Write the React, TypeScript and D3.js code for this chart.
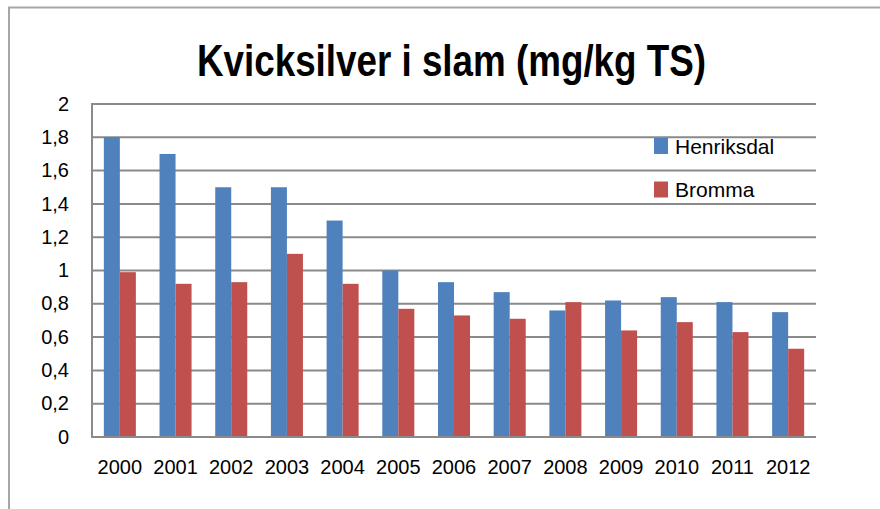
import React, { useEffect, useRef } from "react";
import * as d3 from "d3";

const years = ["2000", "2001", "2002", "2003", "2004", "2005", "2006", "2007", "2008", "2009", "2010", "2011", "2012"];
const henriksdal = [1.8, 1.7, 1.5, 1.5, 1.3, 1.0, 0.93, 0.87, 0.76, 0.82, 0.84, 0.81, 0.75];
const bromma = [0.99, 0.92, 0.93, 1.1, 0.92, 0.77, 0.73, 0.71, 0.81, 0.64, 0.69, 0.63, 0.53];
const seriesNames = ["Henriksdal", "Bromma"];
const yTicks = [0, 0.2, 0.4, 0.6, 0.8, 1, 1.2, 1.4, 1.6, 1.8, 2];

const colors = ["#4F81BD", "#C0504D"];
const W = 880;
const H = 509;

const App = () => {
  const ref = useRef<SVGSVGElement>(null);

  useEffect(() => {
    const svg = d3.select(ref.current);
    svg.selectAll("*").remove();

    const margin = { top: 104, right: 64, bottom: 72, left: 92 };
    const innerRight = W - margin.right;
    const innerBottom = H - margin.bottom;

    // outer chart frame (runs off the right and bottom edge)
    svg.append("rect")
      .attr("x", 9).attr("y", 7.5)
      .attr("width", 1000).attr("height", 1000)
      .attr("fill", "white")
      .attr("stroke", "#a6a6a6")
      .attr("stroke-width", 2);

    svg.append("text")
      .attr("x", 451.5)
      .attr("y", 76)
      .attr("text-anchor", "middle")
      .attr("textLength", 509)
      .attr("lengthAdjust", "spacingAndGlyphs")
      .style("font-family", "'Liberation Sans', Arial, sans-serif")
      .style("font-weight", "bold")
      .style("font-size", "44px")
      .style("fill", "#000")
      .text("Kvicksilver i slam (mg/kg TS)");

    const x0 = d3.scaleBand()
      .domain(years)
      .range([margin.left, innerRight])
      .paddingInner(0.425)
      .paddingOuter(0.2125);

    const x1 = d3.scaleBand()
      .domain(seriesNames)
      .range([0, x0.bandwidth()]);

    const y = d3.scaleLinear().domain([0, 2]).range([innerBottom, margin.top]);

    const gridColor = "#8a8a8a";

    // gridlines
    svg.append("g")
      .selectAll("line")
      .data(yTicks)
      .enter()
      .append("line")
      .attr("x1", margin.left)
      .attr("x2", innerRight)
      .attr("y1", d => y(d))
      .attr("y2", d => y(d))
      .attr("stroke", gridColor)
      .attr("stroke-width", 2);

    // left axis line
    svg.append("line")
      .attr("x1", margin.left).attr("x2", margin.left)
      .attr("y1", y(2) - 1).attr("y2", y(0) + 1)
      .attr("stroke", gridColor)
      .attr("stroke-width", 2);

    const data = years.map((yr, i) => ({ year: yr, values: [henriksdal[i], bromma[i]] }));

    const groups = svg.append("g")
      .selectAll("g")
      .data(data)
      .enter()
      .append("g")
      .attr("transform", d => `translate(${x0(d.year)},0)`);

    groups.selectAll("rect")
      .data(d => d.values.map((v, k) => ({ key: seriesNames[k], v, k })))
      .enter()
      .append("rect")
      .attr("x", d => x1(d.key) as number)
      .attr("width", x1.bandwidth())
      .attr("y", d => y(d.v))
      .attr("height", d => y(0) - y(d.v))
      .attr("fill", d => colors[d.k]);

    // bottom axis line on top of bars
    svg.append("line")
      .attr("x1", margin.left).attr("x2", innerRight)
      .attr("y1", y(0)).attr("y2", y(0))
      .attr("stroke", gridColor)
      .attr("stroke-width", 2);

    const font = "'Liberation Sans', Arial, sans-serif";

    // y labels
    svg.append("g")
      .selectAll("text")
      .data(yTicks)
      .enter()
      .append("text")
      .attr("x", 69)
      .attr("y", d => y(d))
      .attr("dy", "0.33em")
      .attr("text-anchor", "end")
      .style("font-family", font)
      .style("font-size", "20px")
      .style("fill", "#000")
      .text(d => d3.format("")(d).replace(".", ","));

    // x labels
    svg.append("g")
      .selectAll("text")
      .data(years)
      .enter()
      .append("text")
      .attr("x", d => (x0(d) as number) + x0.bandwidth() / 2)
      .attr("y", 474)
      .attr("text-anchor", "middle")
      .style("font-family", font)
      .style("font-size", "20px")
      .style("fill", "#000")
      .text(d => d);

    // legend
    const legend = svg.append("g")
      .selectAll("g")
      .data(seriesNames)
      .enter()
      .append("g")
      .attr("transform", (d, i) => `translate(654,${138 + i * 43.5})`);

    legend.append("rect")
      .attr("width", 14)
      .attr("height", 16)
      .attr("fill", (d, i) => colors[i]);

    legend.append("text")
      .attr("x", 21)
      .attr("y", 15.5)
      .style("font-family", font)
      .style("font-size", "21px")
      .style("fill", "#000")
      .text(d => d);
  }, []);

  return (
    <svg
      ref={ref}
      width={W}
      height={H}
      style={{ position: "absolute", left: 0, top: 0, display: "block" }}
    />
  );
};

export default App;
